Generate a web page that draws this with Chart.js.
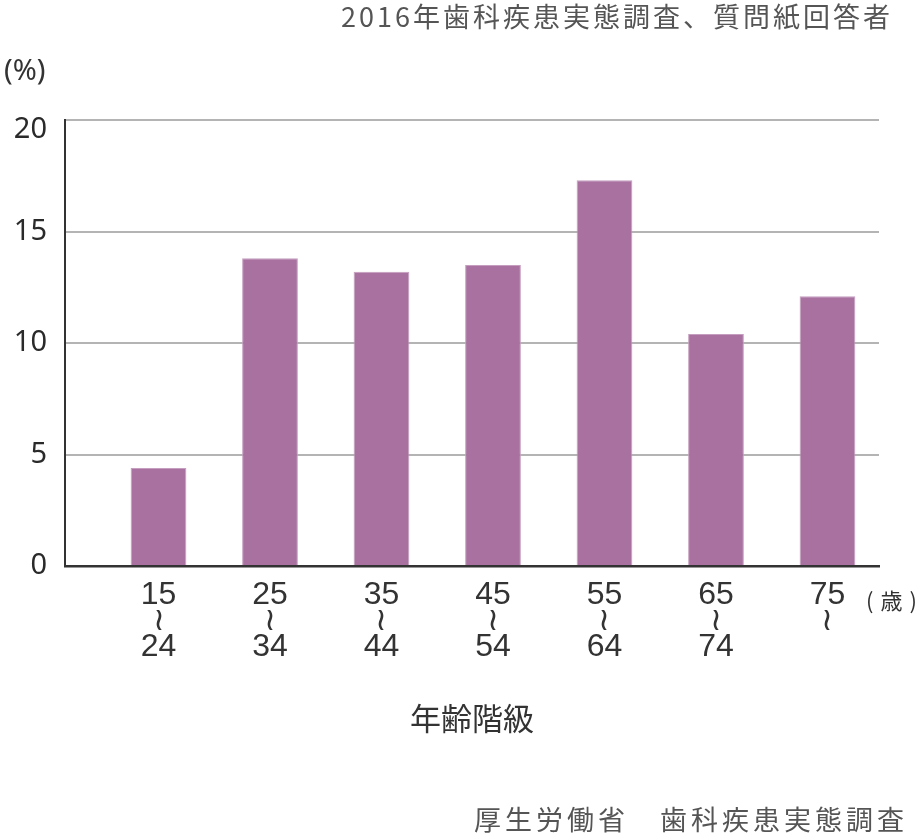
<!DOCTYPE html>
<html lang="ja">
<head>
<meta charset="utf-8">
<script src="https://cdn.jsdelivr.net/npm/chart.js@4"></script>
<style>
  html, body { margin: 0; padding: 0; background: #fff; }
  #wrap { width: 921px; height: 834px; }
</style>
</head>
<body>
<div id="wrap"><canvas id="myChart" width="921" height="834"></canvas></div>
<script>
// values
const ageFrom = ["15", "25", "35", "45", "55", "65", "75"];
const ageTo = ["24", "34", "44", "54", "64", "74", ""];
const rates = [4.4, 13.8, 13.2, 13.5, 17.3, 10.4, 12.1]; // %
const yTicks = [0, 5, 10, 15, 20];

const titleText = "2016年歯科疾患実態調査、質問紙回答者";
const sourceText = "厚生労働省　歯科疾患実態調査";
const xTitle = "年齢階級";

const jpFont = '"Noto Sans CJK JP", "Noto Sans", sans-serif';

// labels like 15 / ≀ / 24 ; the last group has no upper bound
function ageLabel(i) {
  if (ageTo[i] === "") return [ageFrom[i], "≀"];
  return [ageFrom[i], "≀", ageTo[i]];
}

// extra texts that sit outside the axes
const extraText = {
  id: "extraText",
  afterDraw(chart) {
    const ctx = chart.ctx;
    const area = chart.chartArea;
    ctx.save();
    ctx.fillStyle = "#555";
    ctx.textBaseline = "middle";

    ctx.font = "27px " + jpFont;
    ctx.textAlign = "right";
    ctx.letterSpacing = "3px";
    ctx.fillText(titleText, 893, 17);
    ctx.letterSpacing = "4px";
    ctx.fillText(sourceText, 908, 820);

    ctx.fillStyle = "#333";
    ctx.letterSpacing = "0px";
    ctx.textAlign = "left";
    ctx.font = '29px "Noto Sans", sans-serif';
    ctx.fillText("(%)", 4, 72);

    ctx.font = "22px " + jpFont;
    ctx.letterSpacing = "7px";
    ctx.fillText("(歳)", area.right - 13, 601);
    ctx.restore();
  }
};

new Chart("myChart", {
  type: "bar",
  data: {
    datasets: [
      {
        label: "割合",
        data: rates.map((v, i) => ({ x: i, y: v })),
        backgroundColor: "#a871a0",
        borderColor: "#c59ebf",
        borderWidth: 1,
        barPercentage: 0.5,
        categoryPercentage: 1.0,
      },
    ],
  },
  options: {
    responsive: false,
    animation: false,
    layout: { padding: { left: 0, right: 42, top: 120, bottom: 0 } },
    plugins: {
      legend: { display: false },
      tooltip: { enabled: false },
    },
    scales: {
      x: {
        type: "linear",
        offset: false,
        min: -0.8386,
        max: 6.462,
        afterBuildTicks: (scale) => {
          scale.ticks = ageFrom.map((a, i) => ({ value: i }));
        },
        afterFit: (scale) => {
          scale.height = 268;
        },
        grid: { display: false, drawTicks: false, offset: false },
        border: { display: true, color: "#333", width: 2.5 },
        ticks: {
          padding: 16,
          color: "#333",
          maxRotation: 0,
          autoSkip: false,
          font: { family: '"Liberation Sans Narrow", "Liberation Sans", sans-serif', size: 32, lineHeight: "26px" },
          callback: (v) => ageLabel(v),
        },
        title: {
          display: true,
          text: xTitle,
          color: "#333",
          font: { family: jpFont, size: 31 },
          padding: { top: 0, bottom: 97 },
        },
      },
      y: {
        min: 0,
        max: 20,
        afterBuildTicks: (scale) => {
          scale.ticks = yTicks.map((v) => ({ value: v }));
        },
        afterFit: (scale) => {
          scale.width = 65;
        },
        grid: { color: "#b4b4b4", lineWidth: 2, drawTicks: false },
        border: { display: true, color: "#333", width: 2 },
        ticks: {
          padding: 18,
          color: "#2a2a2a",
          font: { family: '"Noto Sans", sans-serif', size: 29, lineHeight: "20px" },
          // the top label sits just under its grid line
          callback: (v) => (v === yTicks[yTicks.length - 1] ? ["", String(v)] : String(v)),
        },
      },
    },
  },
  plugins: [extraText],
});
</script>
</body>
</html>
